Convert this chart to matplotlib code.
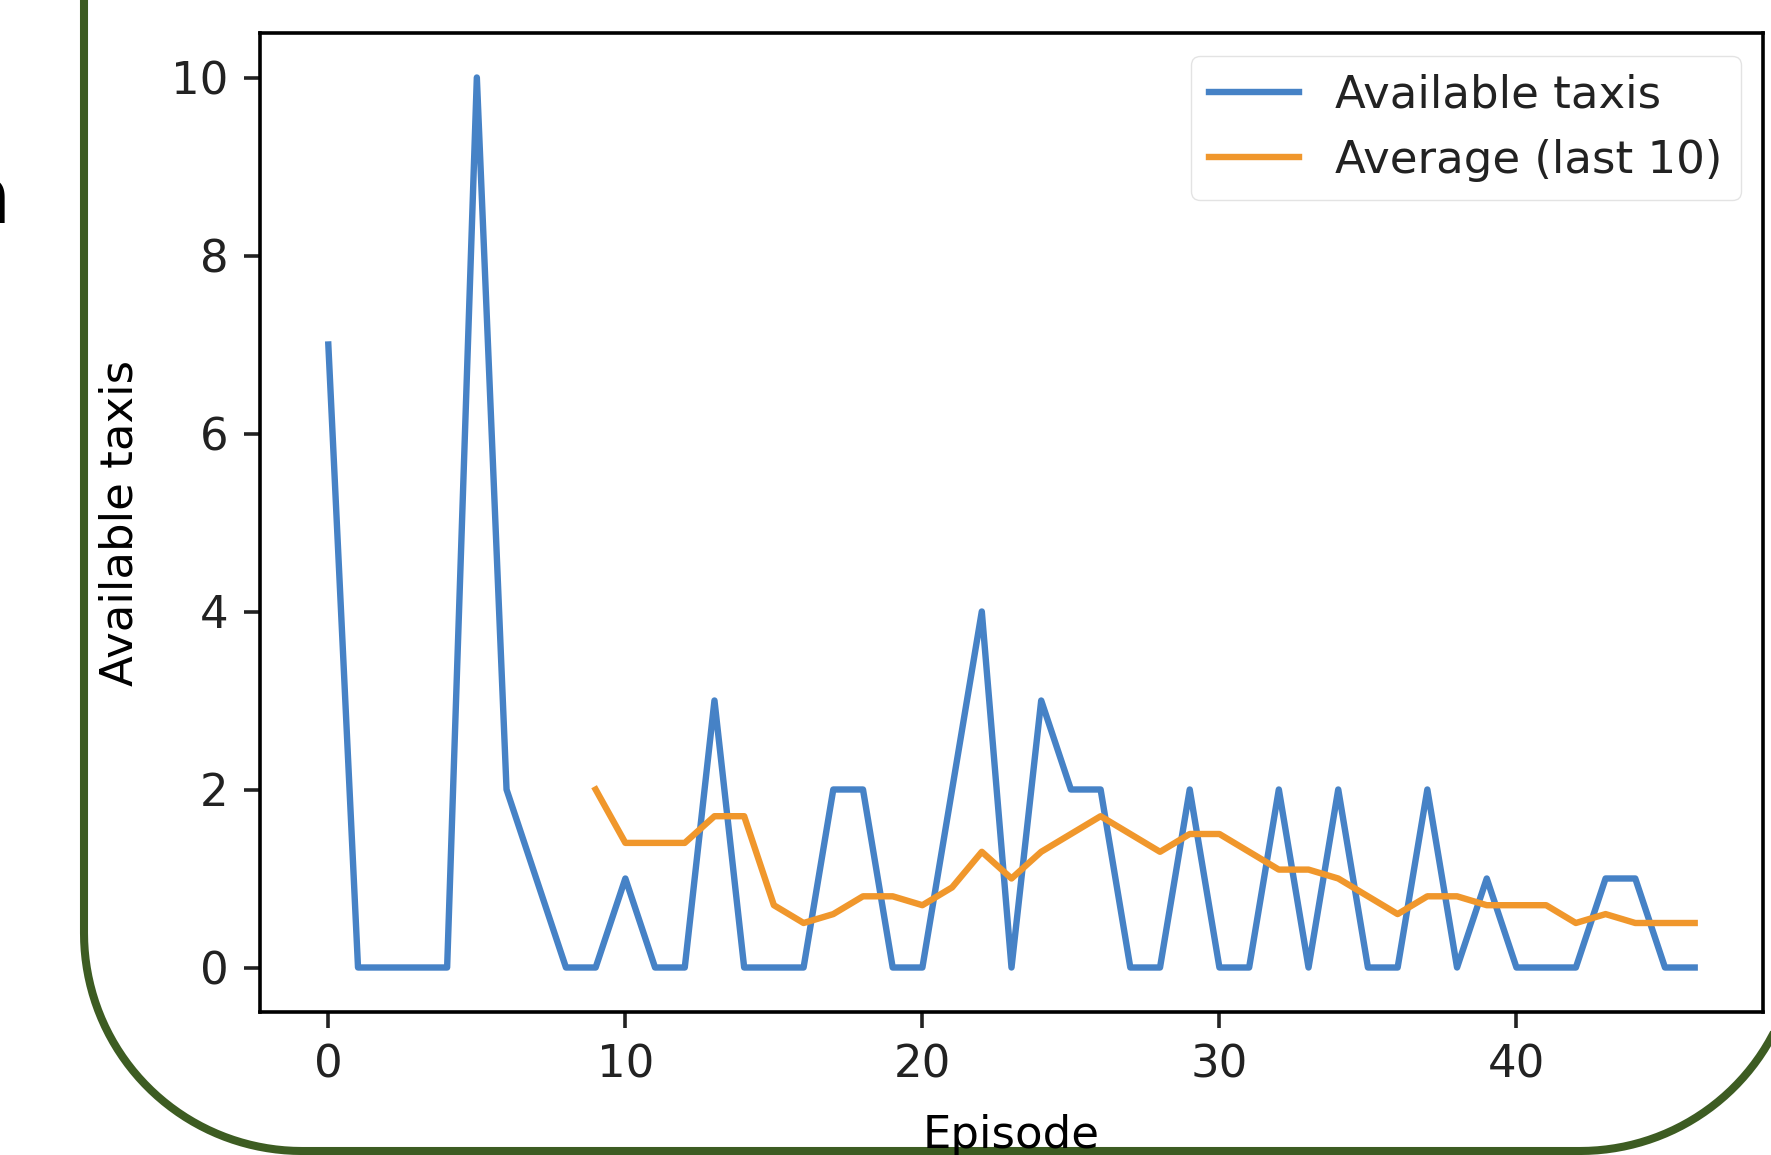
import matplotlib
matplotlib.use("Agg")
import matplotlib.pyplot as plt
import numpy as np

# episode data
episodes = list(range(47))
available = [7, 0, 0, 0, 0, 10, 2, 1, 0, 0,
             1, 0, 0, 3, 0, 0, 0, 2, 2, 0,
             0, 2, 4, 0, 3, 2, 2, 0, 0, 2,
             0, 0, 2, 0, 2, 0, 0, 2, 0, 1,
             0, 0, 0, 1, 1, 0, 0]
avg_episodes = list(range(9, 47))
avg_last10 = [2.0, 1.4, 1.4, 1.4, 1.7, 1.7, 0.7, 0.5, 0.6, 0.8,
              0.8, 0.7, 0.9, 1.3, 1.0, 1.3, 1.5, 1.7, 1.5, 1.3,
              1.5, 1.5, 1.3, 1.1, 1.1, 1.0, 0.8, 0.6, 0.8, 0.8,
              0.7, 0.7, 0.7, 0.5, 0.6, 0.5, 0.5, 0.5]

W, H = 1771, 1155
s = 3.24  # screenshot is an upscaled default matplotlib plot

plt.rcParams.update({
    "font.size": 10 * s,
    "axes.linewidth": 0.8 * s,
    "xtick.major.size": 3.5 * s,
    "ytick.major.size": 3.5 * s,
    "xtick.major.width": 0.8 * s,
    "ytick.major.width": 0.8 * s,
    "xtick.major.pad": 3.5 * s,
    "ytick.major.pad": 3.5 * s,
    "legend.fontsize": 10 * s,
    "legend.edgecolor": "#dddddd",
    "text.color": "#222222",
    "xtick.color": "#222222",
    "ytick.color": "#222222",
})

fig = plt.figure(figsize=(W / 100, H / 100), dpi=100)

# background layer in pixel coordinates (y down) for the green frame
bg = fig.add_axes([0, 0, 1, 1], zorder=0)
bg.set_xlim(0, W)
bg.set_ylim(H, 0)
bg.axis("off")
left, right, bottom, r = 84, 1798, 1151, 218
t1 = np.linspace(np.pi, np.pi / 2, 40)
t2 = np.linspace(np.pi / 2, 0, 40)
fx = np.concatenate([[left], left + r + r * np.cos(t1), right - r + r * np.cos(t2), [right]])
fy = np.concatenate([[-20], bottom - r + r * np.sin(t1), bottom - r + r * np.sin(t2), [-20]])
bg.plot(fx, fy, color="#3d5c22", linewidth=5.8, solid_joinstyle="round", clip_on=False)
bg.text(11, 201, "n", fontsize=56, color="black", ha="right", va="center")

ax = fig.add_axes([260 / W, 1 - 1012 / H, (1763 - 260) / W, (1012 - 33) / H], zorder=1)
ax.patch.set_alpha(0)
ax.plot(episodes, available, color="#4682c6", linewidth=4.6, label="Available taxis")
ax.plot(avg_episodes, avg_last10, color="#f0972c", linewidth=4.6, label="Average (last 10)")
ax.set_xticks([0, 10, 20, 30, 40])
ax.set_yticks([0, 2, 4, 6, 8, 10])
ax.set_xlabel("Episode", labelpad=20)
ax.set_ylabel("Available taxis", labelpad=21)
ax.legend(loc="upper right")

plt.savefig("out.png", dpi=100)
